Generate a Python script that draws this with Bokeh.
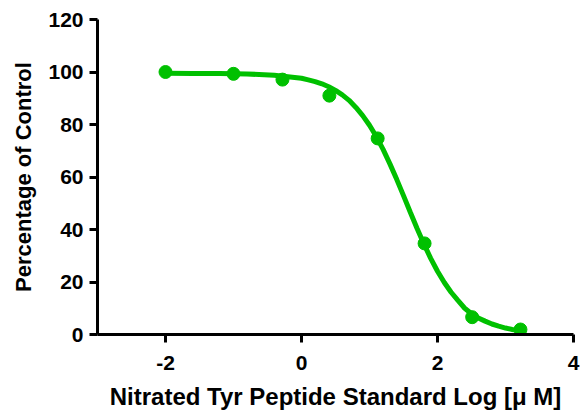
from bokeh.plotting import figure
from bokeh.models import Range1d, FixedTicker
from bokeh.embed import file_html
from bokeh.resources import INLINE

# measured data points
log_conc = [-2.0, -1.0, -0.28, 0.41, 1.12, 1.81, 2.51, 3.22]
pct_control = [100.0, 99.3, 97.1, 91.0, 74.7, 34.7, 6.6, 1.9]

# fitted curve
curve_x = [-2.0, -1.6, -1.2, -0.8, -0.4, 0.0, 0.1, 0.2, 0.3, 0.4, 0.5, 0.6, 0.7, 0.8, 0.9,
           1.0, 1.1, 1.2, 1.3, 1.4, 1.5, 1.6, 1.7, 1.8, 1.9, 2.0, 2.1, 2.2, 2.3, 2.4,
           2.5, 2.6, 2.7, 2.8, 2.9, 3.0, 3.1, 3.2]
curve_y = [99.5, 99.47, 99.4, 99.24, 98.8, 97.6, 97.0, 96.35, 95.5, 94.4, 93.0, 91.3, 89.2, 86.5, 83.4,
           79.7, 75.4, 70.5, 65.0, 59.1, 52.9, 46.6, 40.4, 34.5, 29.0, 24.1, 19.8, 16.1, 13.0, 10.0,
           7.9, 6.3, 5.1, 4.0, 3.16, 2.46, 1.92, 1.5]

x_ticks = [-2, 0, 2, 4]
x_tick_labels = ["-2", "0", "2", "4"]
y_ticks = [0, 20, 40, 60, 80, 100, 120]

GREEN = "#00C000"
FONT = "Liberation Sans"

p = figure(width=580, height=412, output_backend="svg", toolbar_location=None,
           x_range=Range1d(-3, 4), y_range=Range1d(0, 120),
           min_border_left=97, min_border_right=7, min_border_top=19, min_border_bottom=78)
p.outline_line_color = None
p.xgrid.visible = False
p.ygrid.visible = False
p.background_fill_color = "white"
p.border_fill_color = "white"

p.line(curve_x, curve_y, line_color=GREEN, line_width=5)
p.scatter(log_conc, pct_control, size=13, fill_color=GREEN, line_color=GREEN)

for axes in (p.xaxis, p.yaxis):
    axes.axis_line_width = 3
    axes.axis_line_color = "black"
    axes.major_tick_line_width = 3
    axes.major_tick_in = 0
    axes.major_tick_out = 8
    axes.minor_tick_line_color = None
    axes.major_label_text_font = FONT
    axes.major_label_text_font_style = "bold"
    axes.major_label_text_font_size = "21px"
    axes.major_label_text_color = "black"
    axes.axis_label_text_font = FONT
    axes.axis_label_text_font_style = "bold"
    axes.axis_label_text_color = "black"

p.xaxis.ticker = FixedTicker(ticks=x_ticks)
p.xaxis.major_label_overrides = dict(zip(x_ticks, x_tick_labels))
p.yaxis.ticker = FixedTicker(ticks=y_ticks)
p.xaxis.axis_label = "Nitrated Tyr Peptide Standard Log [\u03bc M]"
p.yaxis.axis_label = "Percentage of Control"
p.xaxis.axis_label_text_font_size = "24px"
p.yaxis.axis_label_text_font_size = "22px"
p.xaxis.major_label_standoff = 13
p.yaxis.major_label_standoff = 6
p.xaxis.axis_label_standoff = 10
p.yaxis.axis_label_standoff = 9

open("out.html", "w").write(file_html(p, INLINE))
